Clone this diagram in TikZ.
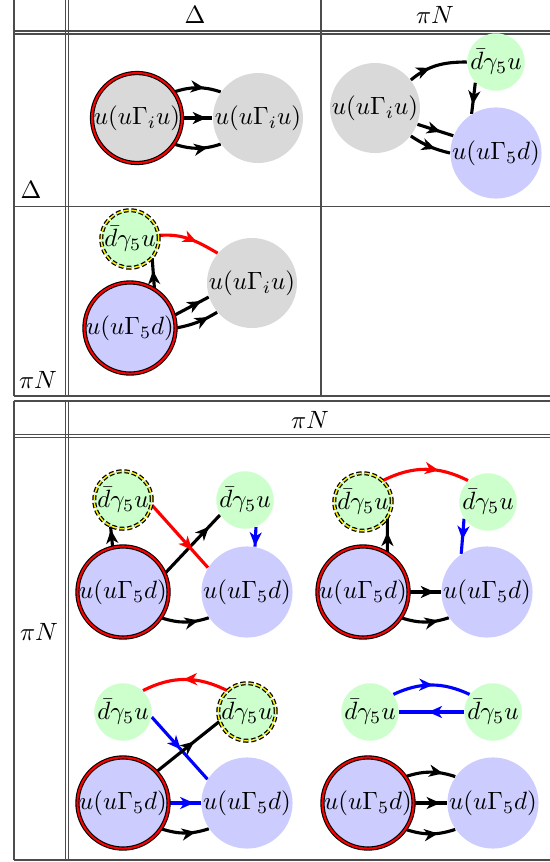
\documentclass[tikz,border=0pt]{standalone}
\usetikzlibrary{arrows.meta,decorations.markings}
\pgfdeclarelayer{bg}
\pgfsetlayers{bg,main}
\begin{document}
\begin{tikzpicture}[x=0.4pt,y=-0.4pt,
  rule/.style={line width=0.45pt, draw=black!70},
  big/.style={circle, minimum size=36pt, inner sep=0pt},
  small/.style={circle, minimum size=23pt, inner sep=0pt},
  grayn/.style={fill=black!15},
  greenn/.style={fill=green!20},
  bluen/.style={fill=blue!20},
  ring/.style={draw=black, line width=0.45pt, double=red, double distance=0.8pt},
  dring/.style={draw=black, line width=0.5pt, double=yellow, double distance=0.6pt, dash pattern=on 2pt off 1.1pt},
  fl/.style={line width=1.25pt},
  ma/.style={postaction={decorate}, decoration={markings, mark=at position #1 with {\arrow{Stealth[length=5.5pt,width=4.8pt,inset=1.6pt]}}}},
  ma/.default=0.6,
  lab/.style={inner sep=0pt}
]
\useasboundingbox (0,0) rectangle (550,862);

% ---------- table 1 rules
\draw[rule] (14,0) -- (14,396);
\draw[rule] (65.5,0) -- (65.5,396);
\draw[rule] (68.5,0) -- (68.5,396);
\draw[rule] (321,0) -- (321,396);
\draw[rule] (14,31) -- (550,31);
\draw[rule] (14,34) -- (550,34);
\draw[rule] (14,206.5) -- (550,206.5);
\draw[rule] (14,396) -- (550,396);
% ---------- table 2 rules
\draw[rule] (14,401) -- (550,401);
\draw[rule] (14,401) -- (14,860);
\draw[rule] (65.5,401) -- (65.5,860);
\draw[rule] (68.5,401) -- (68.5,860);
\draw[rule] (14,434.5) -- (550,434.5);
\draw[rule] (14,437.5) -- (550,437.5);
\draw[rule] (14,860) -- (550,860);

% ---------- labels
\node[lab] (hD) at (195,15) {$\Delta$};
\node[lab] (hP) at (435,15) {$\pi N$};
\node[lab] (rD) at (31,190) {$\Delta$};
\node[lab] (rP) at (38,380) {$\pi N$};
\node[lab] (hPb) at (310,420) {$\pi N$};
\node[lab] (rPb) at (39,632) {$\pi N$};

% ---------- cell Delta-Delta
\node[big,grayn,ring] (A1) at (137,118) {$u(u\Gamma_i u)$};
\node[big,grayn] (A2) at (258,118) {$u(u\Gamma_i u)$};
% ---------- cell Delta-piN
\node[big,grayn] (B1) at (375,108) {$u(u\Gamma_i u)$};
\node[small,greenn] (B2) at (496,62) {$\bar d\gamma_5 u$};
\node[big,bluen] (B3) at (496,153) {$u(u\Gamma_5 d)$};
% ---------- cell piN-Delta
\node[small,greenn,dring] (C1) at (130,239) {$\bar d\gamma_5 u$};
\node[big,bluen,ring] (C2) at (130,328) {$u(u\Gamma_5 d)$};
\node[big,grayn] (C3) at (252,283) {$u(u\Gamma_i u)$};
% ---------- table 2 cell 1
\node[small,greenn,dring] (D1) at (123,500) {$\bar d\gamma_5 u$};
\node[small,greenn] (D2) at (245,500) {$\bar d\gamma_5 u$};
\node[big,bluen,ring] (D3) at (123,592) {$u(u\Gamma_5 d)$};
\node[big,bluen] (D4) at (247,592) {$u(u\Gamma_5 d)$};
% ---------- table 2 cell 2
\node[small,greenn,dring] (E1) at (363,502) {$\bar d\gamma_5 u$};
\node[small,greenn] (E2) at (488,502) {$\bar d\gamma_5 u$};
\node[big,bluen,ring] (E3) at (363,592) {$u(u\Gamma_5 d)$};
\node[big,bluen] (E4) at (487,592) {$u(u\Gamma_5 d)$};
% ---------- table 2 cell 3
\node[small,greenn] (F1) at (123,712) {$\bar d\gamma_5 u$};
\node[small,greenn,dring] (F2) at (247,712) {$\bar d\gamma_5 u$};
\node[big,bluen,ring] (F3) at (123,803) {$u(u\Gamma_5 d)$};
\node[big,bluen] (F4) at (247,803) {$u(u\Gamma_5 d)$};
% ---------- table 2 cell 4
\node[small,greenn] (H1) at (370,712) {$\bar d\gamma_5 u$};
\node[small,greenn] (H2) at (493,712) {$\bar d\gamma_5 u$};
\node[big,bluen,ring] (H3) at (368,803) {$u(u\Gamma_5 d)$};
\node[big,bluen] (H4) at (493,803) {$u(u\Gamma_5 d)$};

\begin{pgfonlayer}{bg}
% Delta-Delta
\draw[fl,ma=0.65] (A1.35) to[bend left=18] (A2.145);
\draw[fl,ma=0.8] (A1.east) -- (A2.west);
\draw[fl,ma=0.72] (A1.-35) to[bend right=18] (A2.-145);
% Delta-piN
\draw[fl,ma=0.38] (B1.38) to[out=40,in=180] (B2.west);
\draw[fl,ma=0.7] (B2.-135) -- (B3.122);
\draw[fl,ma=0.65] (B1.-21) -- (B3.158);
\draw[fl,ma=0.65] (B1.-38) to[bend right=10] (B3.180);
% piN-Delta
\draw[fl,red,ma=0.62] (C1.7) to[out=5,in=150] (C3.139);
\draw[fl,ma=0.6] (C2.58) -- (C1.-41);
\draw[fl,ma=0.78] (C2.16) -- (C3.198);
\draw[fl,ma=0.78] (C2.0) to[bend right=10] (C3.220);
% table 2 cell 1
\draw[fl,ma=0.85] (D3.103) -- (D1.-115);
\draw[fl,ma=0.8] (D3.24) -- (D2.211);
\draw[fl,red,ma=0.72] (D1.-10) -- (D4.148);
\draw[fl,blue,ma=0.97] (D2.-68) -- (D4.80);
\draw[fl,ma=0.78] (D3.-34) to[bend right=18] (D4.-146);
% table 2 cell 2
\draw[fl,red,ma=0.65] (E1.47) to[bend left=27] (E2.133);
\draw[fl,blue,ma=0.6] (E2.215) -- (E4.124);
\draw[fl,ma=0.6] (E3.58) -- (E1.-34);
\draw[fl,ma=0.8] (E3.east) -- (E4.west);
\draw[fl,ma=0.78] (E3.-34) to[bend right=18] (E4.-146);
% table 2 cell 3
\draw[fl,red,ma=0.52] (F2.133) to[bend right=27] (F1.47);
\draw[fl,blue,ma=0.52] (F1.-10) -- (F4.149);
\draw[fl,ma=0.6] (F3.43) -- (F2.199);
\draw[fl,blue,ma=0.78] (F3.east) -- (F4.west);
\draw[fl,ma=0.72] (F3.-34) to[bend right=18] (F4.-146);
% table 2 cell 4
\draw[fl,blue,ma=0.52] (H1.37) to[bend left=25] (H2.143);
\draw[fl,blue,ma=0.55] (H2.west) -- (H1.east);
\draw[fl,ma=0.75] (H3.35) to[bend left=18] (H4.145);
\draw[fl,ma=0.8] (H3.east) -- (H4.west);
\draw[fl,ma=0.65] (H3.-35) to[bend right=18] (H4.-145);
\end{pgfonlayer}
\end{tikzpicture}
\end{document}
